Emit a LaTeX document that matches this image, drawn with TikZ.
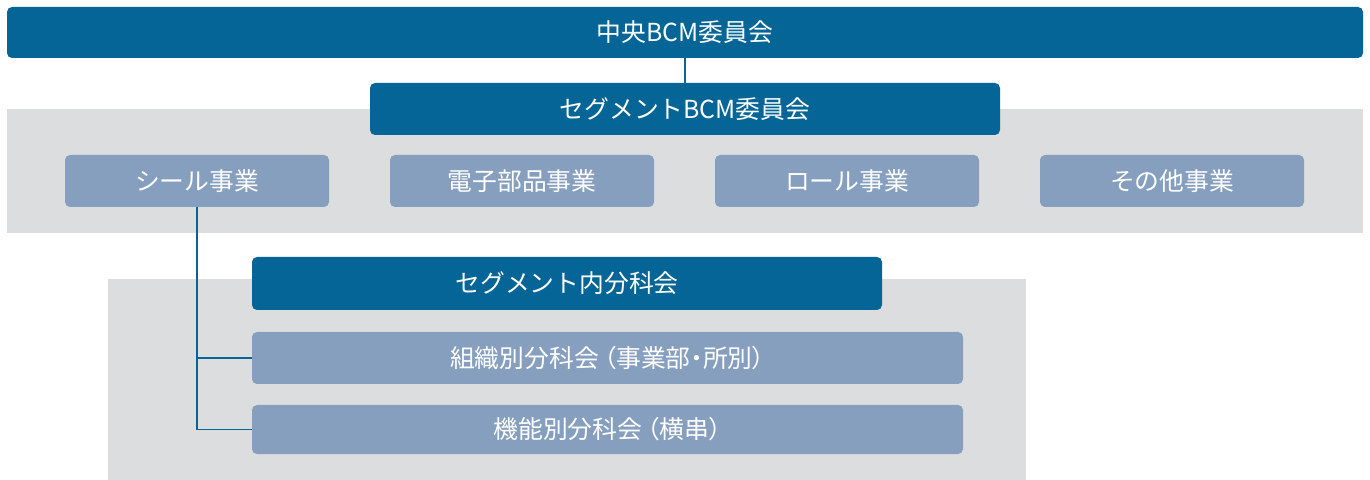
\documentclass[tikz,border=0pt]{standalone}
\usepackage{fontspec}
\setmainfont{Noto Sans CJK JP}
\newfontfamily\paltfont[RawFeature=+palt]{Noto Sans CJK JP}
\definecolor{dblue}{HTML}{046596}
\definecolor{lblue}{HTML}{869FBF}
\definecolor{band}{HTML}{DCDDDF}
\tikzset{
  box/.style={rounded corners=2.5pt, inner sep=0pt, text=white,
    font=\fontsize{12.4}{15}\selectfont},
  mainbox/.style={box, fill=dblue},
  subbox/.style={box, fill=lblue},
  conn/.style={draw=dblue, line width=0.8pt}
}
\begin{document}
\begin{tikzpicture}[x=0.5pt,y=-0.5pt]
\useasboundingbox (0,0) rectangle (1370,480);
\fill[band] (7,109) rectangle (1363,233);
\fill[band] (108,279) rectangle (1026,480);
\node[mainbox, minimum width=678pt, minimum height=25.5pt] (top) at (685,32.5) {中央BCM委員会};
\node[mainbox, minimum width=315pt, minimum height=26pt] (segbcm) at (685,109) {セグメントBCM委員会};
\node[subbox, minimum width=132pt, minimum height=26pt] (seal) at (197,181) {シール事業};
\node[subbox, minimum width=132pt, minimum height=26pt] (elec) at (522,181) {電子部品事業};
\node[subbox, minimum width=132pt, minimum height=26pt] (roll) at (847,181) {ロール事業};
\node[subbox, minimum width=132pt, minimum height=26pt] (other) at (1172,181) {その他事業};
\node[mainbox, minimum width=315pt, minimum height=26.5pt] (segsub) at (567,283.5) {セグメント内分科会};
\node[subbox, minimum width=355.5pt, minimum height=26pt] (org) at (607.5,358) {組織別分科会\hspace{2.5pt}{\paltfont（事業部・所別）}};
\node[subbox, minimum width=355.5pt, minimum height=24.5pt] (func) at (607.5,429.5) {機能別分科会\hspace{2.5pt}{\paltfont（横串）}};
\draw[conn] (top.south) -- (segbcm.north);
\draw[conn] (seal.south) |- (org.west);
\draw[conn] (seal.south) |- (func.west);
\end{tikzpicture}
\end{document}
